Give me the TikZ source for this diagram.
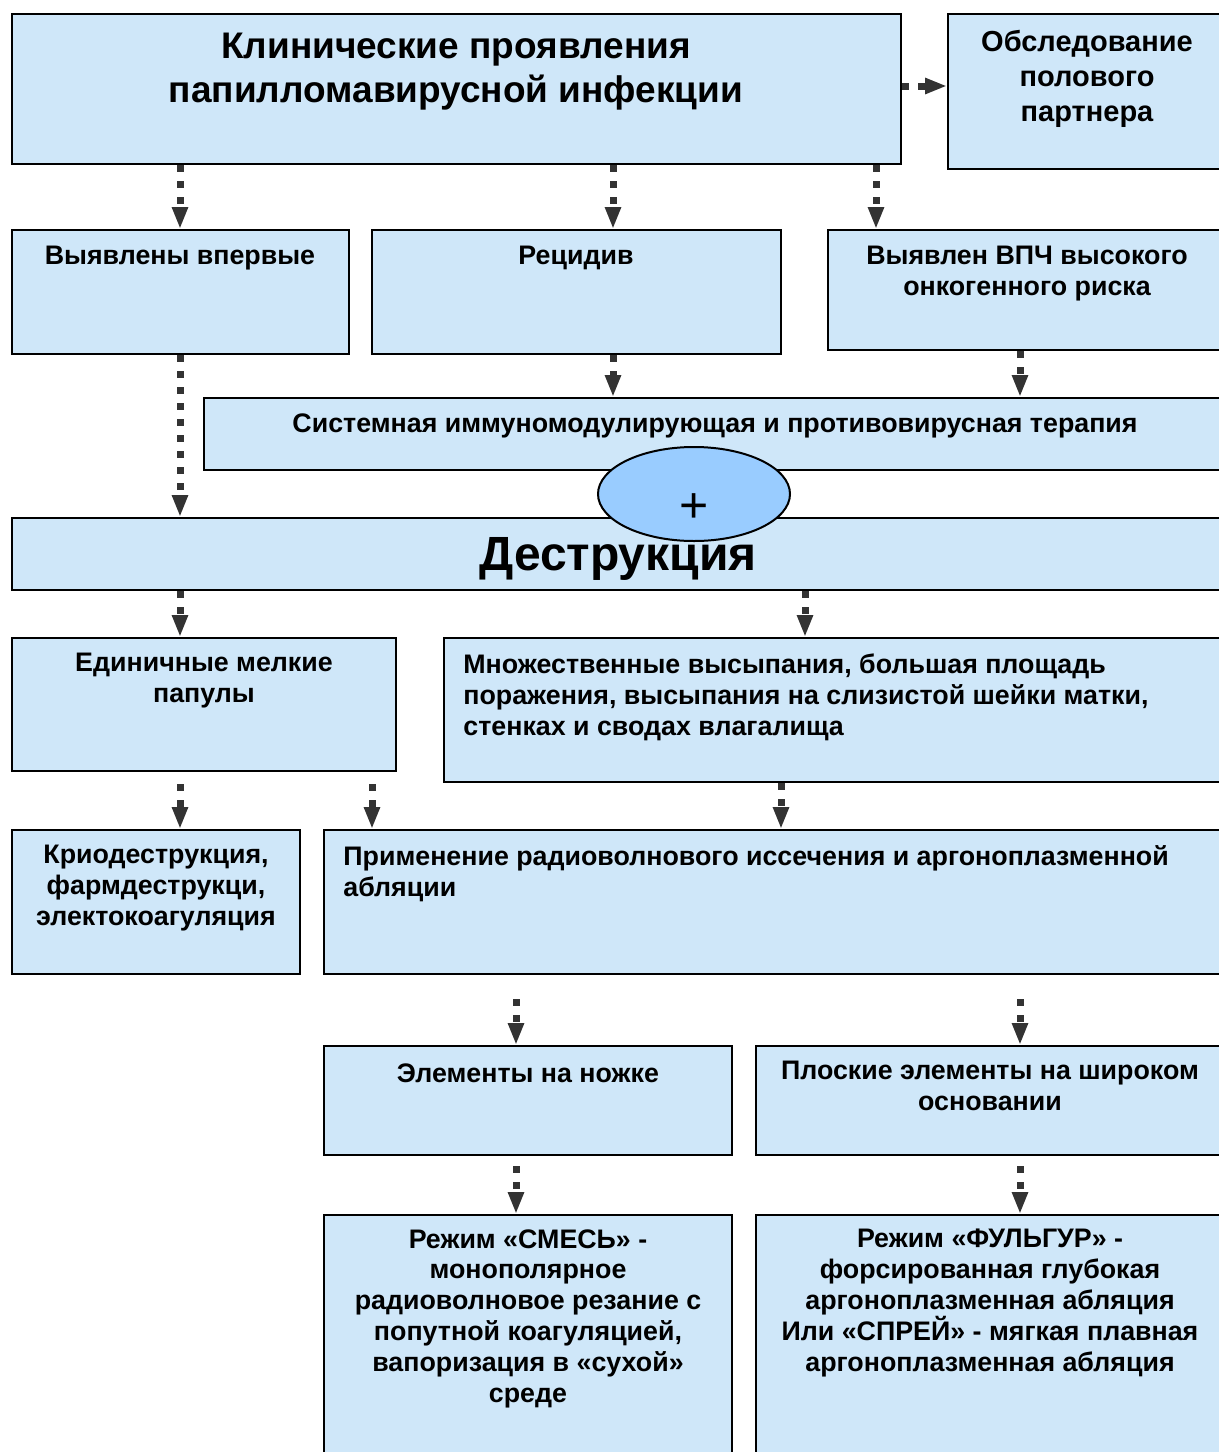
\documentclass[tikz,border=0pt]{standalone}
\usepackage{fontspec}
\setmainfont{Liberation Sans}
\usetikzlibrary{fit,shapes.geometric,arrows.meta}

\definecolor{boxblue}{HTML}{CFE7F9}
\definecolor{ovalblue}{HTML}{99CCFF}
\definecolor{arrgray}{HTML}{333333}

\tikzset{
  box/.style={draw=black, line width=1pt, fill=boxblue, inner sep=0pt},
  txt/.style={anchor=north, inner sep=0pt, align=center, font=\bfseries\fontsize{13.4}{15.5}\selectfont},
  ltxt/.style={txt, anchor=north west, align=left},
  arr/.style={draw=arrgray, line width=3.5pt, dash pattern=on 3.5pt off 4.5pt,
    -{Triangle[width=7.5pt,length=11pt]}}
}

\begin{document}
\begin{tikzpicture}[x=0.5pt,y=-0.5pt]
\clip (0,0) rectangle (1219,1452);

% top row
\node[box, fit={(12,14) (901,164)}] (clin) {};
\node[txt, font=\bfseries\fontsize{18.5}{22}\selectfont] (clintxt) at (456,33)
  {Клинические проявления\\папилломавирусной инфекции};
\node[box, fit={(948,14) (1240,169)}] (partner) {};
\node[txt, font=\bfseries\fontsize{14.5}{17.5}\selectfont] (partnertxt) at (1087,30)
  {Обследование\\полового\\партнера};

% second row
\node[box, fit={(12,230) (349,354)}] (first) {};
\node[txt] (firsttxt) at (180,246) {Выявлены впервые};
\node[box, fit={(372,230) (781,354)}] (relapse) {};
\node[txt] (relapsetxt) at (576,246) {Рецидив};
\node[box, fit={(828,230) (1240,350)}] (hpv) {};
\node[txt] (hpvtxt) at (1027,246) {Выявлен ВПЧ высокого\\онкогенного риска};

% therapy + destruction
\node[box, fit={(204,398) (1240,470)}] (system) {};
\node[txt] (systemtxt) at (715,413) {Системная иммуномодулирующая и противовирусная терапия};
\node[box, fit={(12,518) (1240,590)}] (destr) {};
\node[txt, font=\bfseries\fontsize{24}{28}\selectfont] (destrtxt) at (618,537) {Деструкция};
\node[draw=black, line width=1pt, fill=ovalblue, ellipse, minimum width=96pt,
  minimum height=47pt, inner sep=0pt] (oval) at (694,494) {};
\node[inner sep=0pt, font=\fontsize{25}{25}\selectfont] (plus) at (694,508) {+};

% papules
\node[box, fit={(12,638) (396,771)}] (single) {};
\node[txt] (singletxt) at (204,653) {Единичные мелкие\\папулы};
\node[box, fit={(444,638) (1240,782)}] (multi) {};
\node[ltxt] (multitxt) at (463,653) {Множественные высыпания, большая площадь\\поражения, высыпания на слизистой шейки матки,\\стенках и сводах влагалища};

% methods
\node[box, fit={(12,830) (300,974)}] (cryo) {};
\node[txt] (cryotxt) at (156,845) {Криодеструкция,\\фармдеструкци,\\электокоагуляция};
\node[box, fit={(324,830) (1240,974)}] (radio) {};
\node[ltxt] (radiotxt) at (343,845) {Применение радиоволнового иссечения и аргоноплазменной\\абляции};

% elements
\node[box, fit={(324,1046) (732,1155)}] (stalk) {};
\node[txt] (stalktxt) at (528,1063) {Элементы на ножке};
\node[box, fit={(756,1046) (1240,1155)}] (flat) {};
\node[txt] (flattxt) at (990,1061) {Плоские элементы на широком\\основании};

% modes
\node[box, fit={(324,1215) (732,1470)}] (mix) {};
\node[txt, font=\bfseries\fontsize{13.4}{15.4}\selectfont] (mixtxt) at (528,1229)
  {Режим «СМЕСЬ» -\\монополярное\\радиоволновое резание с\\попутной коагуляцией,\\вапоризация в «сухой»\\среде};
\node[box, fit={(756,1215) (1240,1470)}] (fulg) {};
\node[txt, font=\bfseries\fontsize{13.4}{15.4}\selectfont] (fulgtxt) at (990,1229)
  {Режим «ФУЛЬГУР» -\\форсированная глубокая\\аргоноплазменная абляция\\Или «СПРЕЙ» - мягкая плавная\\аргоноплазменная абляция};

% arrows
\draw[arr] (clin.east |- 0,86) -- (partner.west |- 0,86);
\draw[arr] (clin.south -| 180,0) -- (first.north -| 180,0);
\draw[arr] (clin.south -| 613,0) -- (relapse.north -| 613,0);
\draw[arr] (clin.south -| 876,0) -- (hpv.north -| 876,0);
\draw[arr] (relapse.south -| 613,0) -- (system.north -| 613,0);
\draw[arr] (hpv.south -| 1020,0) -- (system.north -| 1020,0);
\draw[arr] (first.south -| 180,0) -- (destr.north -| 180,0);
\draw[arr] (destr.south -| 180,0) -- (single.north -| 180,0);
\draw[arr] (destr.south -| 805,0) -- (multi.north -| 805,0);
\draw[arr, shorten <=6pt] (single.south -| 180,0) -- (cryo.north -| 180,0);
\draw[arr, shorten <=6pt] (single.south -| 372,0) -- (radio.north -| 372,0);
\draw[arr] (multi.south -| 781,0) -- (radio.north -| 781,0);
\draw[arr, shorten <=12pt] (radio.south -| 516,0) -- (stalk.north -| 516,0);
\draw[arr, shorten <=12pt] (radio.south -| 1020,0) -- (flat.north -| 1020,0);
\draw[arr, shorten <=5pt] (stalk.south -| 516,0) -- (mix.north -| 516,0);
\draw[arr, shorten <=5pt] (flat.south -| 1020,0) -- (fulg.north -| 1020,0);
\end{tikzpicture}
\end{document}
